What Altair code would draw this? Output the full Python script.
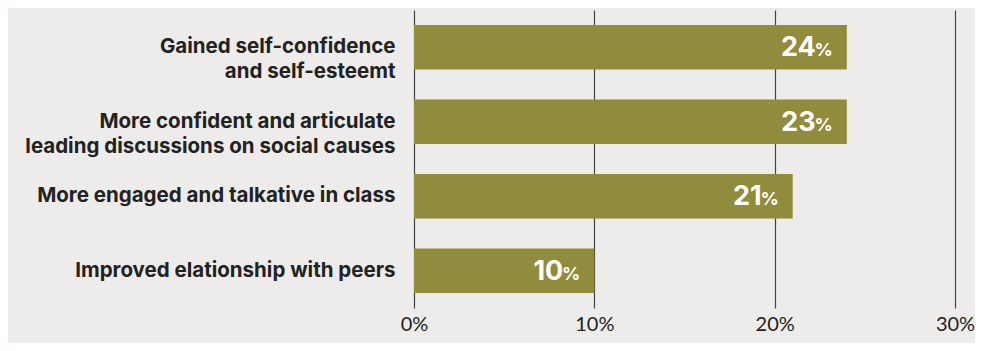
import altair as alt
import pandas as pd

categories = [
    "Gained self-confidence\nand self-esteemt",
    "More confident and articulate \nleading discussions on social causes",
    "More engaged and talkative in class",
    "Improved elationship with peers",
]
bar_values = [24, 24, 21, 10]
label_values = [24, 23, 21, 10]
x_ticks = [0, 10, 20, 30]

df = pd.DataFrame({
    "category": categories,
    "value": bar_values,
    "label": [str(v) for v in label_values],
    "pct": ["%"] * len(categories),
})

BG = "#EDECEA"
BAR = "#918B3C"

y_enc = alt.Y(
    "category:N",
    sort=None,
    title=None,
    scale=alt.Scale(paddingInner=0.4, paddingOuter=0.2),
    axis=alt.Axis(
        labelExpr="split(datum.label, '\\n')",
        labelFont="Inter",
        labelFontWeight="bold",
        labelFontSize=20.5,
        labelColor="#222222",
        labelLineHeight=25,
        labelPadding=19,
        labelLimit=420,
        ticks=False,
        domain=False,
        grid=False,
    ),
)

x_enc = alt.X(
    "value:Q",
    title=None,
    scale=alt.Scale(domain=[0, 30], nice=False),
    axis=alt.Axis(
        values=x_ticks,
        labelExpr="datum.value + '%'",
        labelFont="Lato",
        labelFontSize=20,
        labelColor="#222222",
        labelPadding=6,
        labelFlush=False,
        ticks=False,
        domain=False,
        grid=True,
        gridColor="#444444",
        gridWidth=1.2,
        gridOpacity=1,
    ),
)

base = alt.Chart(df)

bars = base.mark_bar(color=BAR, cornerRadius=0).encode(x=x_enc, y=y_enc)

nums = base.mark_text(
    align="right", baseline="alphabetic", dx=-31, dy=9,
    font="Inter", fontWeight="bold", fontSize=27, color="white",
).encode(x="value:Q", y=alt.Y("category:N", sort=None), text="label:N")

pcts = base.mark_text(
    align="right", baseline="alphabetic", dx=-14, dy=9,
    font="Inter", fontWeight="bold", fontSize=18, color="white",
).encode(x="value:Q", y=alt.Y("category:N", sort=None), text="pct:N")

chart = (
    alt.layer(bars, nums, pcts)
    .properties(
        width=541,
        height=298,
        background=BG,
        autosize=alt.AutoSizeParams(type="none"),
        padding={"left": 406, "top": 2, "right": 20, "bottom": 35},
    )
    .configure_view(stroke=None)
)

chart.save("out.html", embed_options={"renderer": "svg", "actions": False})
